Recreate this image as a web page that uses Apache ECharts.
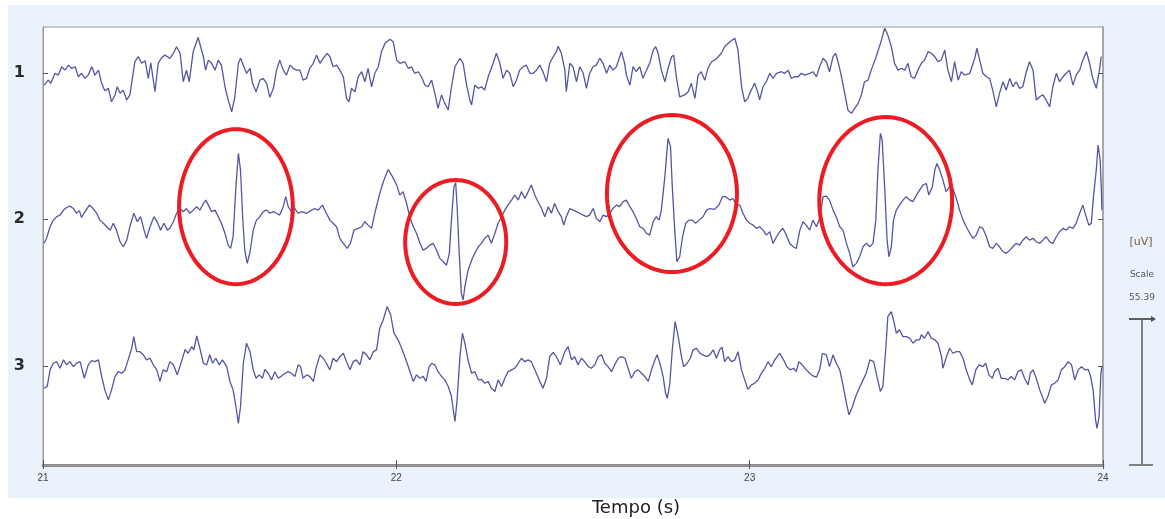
<!DOCTYPE html>
<html>
<head>
<meta charset="utf-8">
<script src="https://cdn.jsdelivr.net/npm/echarts@6/dist/echarts.min.js"></script>
<style>
  html, body { margin: 0; padding: 0; background: #ffffff; }
  #chart { width: 1165px; height: 519px; }
</style>
</head>
<body>
<div id="chart"></div>
<script>
// ---- DATA (time in s, amplitude in uV) ----
const CHANNEL_LABELS = ['1', '2', '3'];
const CHANNEL_OFFSETS = [148.7, 93.3, 37.6];   // montage baseline of each channel (uV on the stacked axis)
const TIME_MIN = 21, TIME_MAX = 24;
const SCALE_UV = 55.39;

const CH1 = [
[21.003,-4.6],[21.015,-2.7],[21.022,-3.9],[21.034,-0.1],[21.043,-0.8],[21.053,2.4],[21.062,1.1],[21.072,3.0],[21.081,1.8],[21.091,2.4],[21.100,-1.4],[21.109,-0.1],[21.119,-2.0],[21.128,-0.8],[21.138,2.4],[21.147,-0.8],[21.157,1.1],[21.166,-3.9],[21.175,-6.7],[21.185,-5.8],[21.194,-10.9],[21.204,-8.3],[21.210,-5.2],[21.218,-7.7],[21.227,-6.5],[21.237,-10.2],[21.246,-8.3],[21.260,4.3],[21.270,6.2],[21.279,3.7],[21.289,4.7],[21.298,-2.0],[21.305,3.9],[21.317,-7.1],[21.326,3.7],[21.336,5.9],[21.345,6.8],[21.359,5.6],[21.369,7.5],[21.378,10.0],[21.388,7.5],[21.397,-3.3],[21.406,1.1],[21.414,-3.3],[21.425,8.1],[21.439,13.5],[21.454,6.2],[21.460,1.1],[21.468,4.9],[21.477,3.7],[21.487,1.1],[21.496,4.9],[21.505,3.0],[21.515,-5.2],[21.524,-10.2],[21.534,-14.7],[21.543,-9.0],[21.553,3.7],[21.559,5.6],[21.567,3.0],[21.576,-0.1],[21.586,1.8],[21.593,-3.9],[21.603,-7.1],[21.614,-2.7],[21.623,-2.0],[21.633,-3.9],[21.642,-9.2],[21.652,-5.8],[21.661,1.1],[21.670,4.9],[21.680,1.1],[21.689,-0.8],[21.699,3.0],[21.708,1.8],[21.718,1.1],[21.727,1.1],[21.736,-2.7],[21.746,-2.0],[21.755,1.8],[21.765,3.7],[21.774,6.8],[21.784,3.7],[21.793,5.6],[21.804,7.5],[21.812,6.2],[21.821,2.4],[21.831,3.0],[21.840,1.1],[21.850,-1.4],[21.859,-9.6],[21.866,-10.9],[21.873,-5.8],[21.883,-7.1],[21.892,-1.4],[21.902,0.5],[21.911,-3.3],[21.920,1.8],[21.930,-5.2],[21.939,-0.1],[21.949,2.4],[21.958,8.1],[21.968,11.3],[21.982,12.8],[21.991,11.9],[22.001,4.9],
[22.010,3.7],[22.024,4.3],[22.034,1.8],[22.043,2.4],[22.052,-0.1],[22.062,0.5],[22.071,-1.4],[22.081,-4.6],[22.090,-5.2],[22.100,-2.7],[22.109,-7.7],[22.118,-13.4],[22.128,-8.3],[22.137,-11.5],[22.147,-14.0],[22.156,-5.2],[22.166,2.4],[22.180,5.6],[22.189,3.7],[22.199,-4.6],[22.208,-10.2],[22.213,-12.1],[22.222,-4.6],[22.232,-5.8],[22.241,-5.2],[22.250,-6.5],[22.260,-1.4],[22.274,3.7],[22.283,7.5],[22.293,3.7],[22.302,-2.0],[22.312,1.1],[22.321,-0.1],[22.331,-5.2],[22.340,-2.7],[22.349,1.1],[22.359,2.4],[22.368,3.0],[22.378,-0.1],[22.387,-0.1],[22.397,1.1],[22.406,3.0],[22.415,0.5],[22.425,-3.3],[22.434,3.7],[22.444,6.2],[22.453,8.1],[22.458,10.2],[22.467,7.5],[22.477,1.1],[22.481,-7.1],[22.491,3.7],[22.500,2.4],[22.510,-3.3],[22.519,2.4],[22.529,-0.1],[22.538,-5.8],[22.547,-0.1],[22.557,2.4],[22.566,3.0],[22.576,5.6],[22.585,3.7],[22.595,-0.1],[22.604,3.0],[22.613,1.1],[22.623,2.4],[22.632,6.2],[22.637,8.1],[22.646,3.7],[22.651,-0.8],[22.661,-4.6],[22.670,2.4],[22.679,0.5],[22.689,2.4],[22.698,-2.0],[22.708,1.1],[22.717,3.7],[22.727,8.7],[22.734,10.0],[22.741,7.5],[22.750,1.1],[22.760,-3.3],[22.769,1.8],[22.779,6.2],[22.785,6.8],[22.793,-2.0],[22.802,-9.0],[22.816,-8.3],[22.826,-7.1],[22.835,-3.9],[22.845,-9.6],[22.854,-0.8],[22.863,0.5],[22.873,-2.7],[22.882,1.8],[22.892,4.3],[22.901,4.9],[22.911,6.2],[22.920,7.5],[22.929,10.0],[22.944,11.9],[22.958,13.2],[22.967,8.7],[22.977,-5.2],[22.986,-10.9],[22.995,-9.6],
[23.000,-7.7],[23.014,-3.9],[23.024,-7.7],[23.028,-10.2],[23.038,-5.2],[23.047,-3.3],[23.057,-0.1],[23.066,-2.0],[23.076,-0.1],[23.090,0.5],[23.099,-0.1],[23.109,1.1],[23.118,-2.0],[23.127,-1.4],[23.137,-1.4],[23.146,-0.1],[23.156,-0.8],[23.170,-0.1],[23.179,0.5],[23.189,-1.4],[23.198,2.4],[23.208,5.6],[23.217,4.3],[23.226,0.5],[23.236,6.2],[23.243,7.5],[23.250,4.3],[23.259,-0.8],[23.269,-7.7],[23.278,-14.0],[23.288,-15.3],[23.297,-13.4],[23.307,-11.5],[23.316,-8.3],[23.325,-3.3],[23.335,-2.7],[23.344,1.1],[23.358,6.2],[23.373,12.5],[23.382,17.0],[23.387,17.6],[23.391,14.4],[23.401,10.0],[23.410,3.7],[23.420,1.1],[23.429,1.8],[23.439,1.1],[23.448,3.7],[23.457,-1.4],[23.467,-2.0],[23.476,1.1],[23.486,3.7],[23.495,4.9],[23.505,8.1],[23.514,7.5],[23.524,6.2],[23.533,4.3],[23.542,4.9],[23.552,8.7],[23.561,1.1],[23.571,-3.3],[23.580,4.3],[23.590,-2.7],[23.599,0.5],[23.608,-0.8],[23.623,-0.1],[23.637,5.6],[23.643,9.4],[23.651,4.9],[23.660,-0.1],[23.670,-1.4],[23.679,-2.0],[23.688,-6.5],[23.698,-12.8],[23.707,-7.7],[23.717,-3.3],[23.726,-6.5],[23.736,-2.0],[23.745,-5.2],[23.754,-3.3],[23.764,-5.8],[23.773,-5.2],[23.783,0.5],[23.792,4.3],[23.802,1.1],[23.811,-10.2],[23.821,-9.0],[23.830,-8.3],[23.839,-10.2],[23.849,-12.8],[23.858,-5.2],[23.868,-0.1],[23.877,-3.3],[23.887,-1.4],[23.896,-0.1],[23.905,1.1],[23.915,-4.6],[23.924,-0.8],[23.934,1.1],[23.943,4.9],[23.953,8.1],[23.962,3.7],[23.971,-2.0],[23.981,-5.8],[23.990,1.1],[23.995,6.2]
];

const CH2 = [
[21.003,-9.2],[21.010,-7.3],[21.020,-2.9],[21.029,-0.4],[21.039,0.9],[21.048,1.5],[21.058,3.4],[21.067,4.4],[21.076,4.9],[21.086,4.0],[21.095,2.2],[21.103,3.2],[21.109,0.6],[21.119,2.8],[21.131,5.3],[21.142,4.0],[21.152,2.2],[21.161,-0.4],[21.171,-1.6],[21.180,-2.9],[21.190,-4.2],[21.199,-1.6],[21.208,-4.2],[21.218,-8.6],[21.227,-10.5],[21.237,-8.0],[21.246,-2.9],[21.257,2.2],[21.267,-1.0],[21.276,0.9],[21.286,-4.2],[21.293,-7.3],[21.303,-2.9],[21.314,0.9],[21.323,-1.0],[21.333,-4.2],[21.342,-1.6],[21.352,-4.2],[21.359,-3.5],[21.369,-1.0],[21.378,2.2],[21.388,4.0],[21.397,2.8],[21.406,4.0],[21.416,2.2],[21.425,3.4],[21.435,4.7],[21.444,3.4],[21.454,5.9],[21.461,7.2],[21.468,5.3],[21.477,2.8],[21.487,3.4],[21.496,0.9],[21.505,-1.6],[21.515,-5.4],[21.524,-9.9],[21.531,-11.1],[21.538,-6.7],[21.546,12.3],[21.553,24.9],[21.559,18.6],[21.565,0.9],[21.571,-11.8],[21.578,-16.8],[21.586,-12.4],[21.595,-4.2],[21.604,-0.4],[21.614,0.9],[21.623,2.8],[21.633,3.4],[21.642,2.2],[21.652,2.8],[21.661,2.2],[21.670,1.5],[21.680,4.7],[21.687,8.5],[21.694,4.7],[21.703,2.8],[21.713,4.0],[21.722,2.2],[21.732,2.8],[21.746,2.2],[21.760,3.4],[21.769,4.0],[21.779,3.4],[21.791,5.3],[21.802,2.2],[21.812,-0.4],[21.821,-1.6],[21.831,-2.9],[21.840,-7.3],[21.850,-9.2],[21.861,-11.1],[21.870,-9.2],[21.880,-4.2],[21.892,-3.5],[21.902,-2.9],[21.911,-1.0],[21.920,-2.3],[21.930,-3.5],[21.939,2.2],[21.953,9.7],[21.965,14.8],[21.977,18.8],[21.989,16.1],[22.001,12.9],[22.010,9.1],[22.019,10.4],[22.029,5.9],[22.038,0.9],
[22.048,-2.9],[22.057,-5.4],[22.067,-9.2],[22.076,-11.8],[22.085,-11.1],[22.095,-9.9],[22.104,-9.2],[22.114,-11.8],[22.123,-14.9],[22.133,-16.2],[22.142,-17.5],[22.150,-13.0],[22.156,-0.4],[22.163,12.3],[22.168,13.8],[22.172,4.7],[22.178,-13.0],[22.184,-28.2],[22.189,-30.7],[22.194,-25.7],[22.203,-19.4],[22.213,-15.6],[22.222,-13.0],[22.232,-10.5],[22.241,-9.2],[22.250,-7.3],[22.260,-6.1],[22.269,-9.2],[22.279,-5.4],[22.288,-1.6],[22.298,0.9],[22.307,3.4],[22.316,5.3],[22.326,7.2],[22.335,9.1],[22.345,7.2],[22.354,10.4],[22.364,7.8],[22.373,10.4],[22.382,12.9],[22.392,9.1],[22.401,6.6],[22.411,4.0],[22.420,0.9],[22.430,4.7],[22.439,2.2],[22.448,5.9],[22.458,2.8],[22.467,0.9],[22.474,-2.3],[22.481,0.9],[22.491,4.0],[22.500,3.4],[22.510,2.8],[22.519,2.2],[22.529,1.5],[22.538,0.9],[22.547,1.5],[22.557,4.0],[22.566,0.3],[22.576,-1.0],[22.585,1.5],[22.595,0.9],[22.604,2.2],[22.613,4.0],[22.623,5.3],[22.632,4.7],[22.642,6.6],[22.651,7.2],[22.661,4.7],[22.670,2.8],[22.679,0.3],[22.689,-2.9],[22.698,-3.5],[22.708,-5.4],[22.717,-6.1],[22.727,-1.0],[22.736,0.9],[22.744,-0.4],[22.750,3.4],[22.760,16.1],[22.769,30.6],[22.776,27.5],[22.781,12.3],[22.788,-4.2],[22.794,-16.2],[22.802,-14.3],[22.810,-6.7],[22.819,-1.6],[22.828,-0.4],[22.838,-0.4],[22.847,-1.6],[22.857,-0.4],[22.868,0.9],[22.878,3.4],[22.887,4.0],[22.901,3.7],[22.913,5.3],[22.923,8.5],[22.932,8.5],[22.944,7.2],[22.953,7.8],[22.962,5.3],[22.972,5.3],[22.981,2.2],[22.991,-0.4],[23.000,-1.6],[23.010,-2.3],[23.019,-3.5],[23.028,-2.9],[23.038,-4.2],[23.047,-6.1],[23.057,-4.8],[23.066,-9.2],[23.076,-6.7],[23.085,-4.8],
[23.094,-3.5],[23.104,-6.1],[23.113,-9.2],[23.123,-10.5],[23.132,-11.1],[23.142,-4.2],[23.151,-1.0],[23.160,-2.3],[23.170,-4.2],[23.179,-0.4],[23.189,-2.9],[23.198,0.3],[23.208,8.5],[23.217,8.7],[23.226,7.2],[23.236,3.4],[23.245,0.9],[23.255,-2.9],[23.264,-4.2],[23.274,-9.2],[23.283,-13.0],[23.292,-18.1],[23.302,-16.8],[23.311,-14.3],[23.321,-10.5],[23.330,-9.2],[23.340,-10.5],[23.349,-9.2],[23.357,-0.4],[23.363,18.6],[23.370,32.5],[23.375,30.0],[23.382,12.3],[23.389,-8.0],[23.394,-14.3],[23.401,-10.5],[23.407,-0.4],[23.415,3.4],[23.424,5.3],[23.434,7.2],[23.443,8.5],[23.453,7.2],[23.462,6.6],[23.472,9.1],[23.481,11.0],[23.490,12.9],[23.500,13.5],[23.507,9.1],[23.517,12.3],[23.524,18.6],[23.530,21.1],[23.538,18.6],[23.547,14.8],[23.556,10.4],[23.566,12.3],[23.575,11.6],[23.585,7.8],[23.594,3.4],[23.604,-0.4],[23.613,-2.9],[23.623,-5.4],[23.632,-7.3],[23.641,-6.1],[23.651,-2.9],[23.660,-3.5],[23.670,-6.7],[23.679,-10.5],[23.688,-11.1],[23.698,-9.2],[23.707,-10.5],[23.717,-12.4],[23.726,-13.0],[23.736,-11.8],[23.745,-10.5],[23.754,-9.2],[23.764,-9.9],[23.773,-8.0],[23.783,-6.7],[23.792,-8.0],[23.802,-7.3],[23.811,-8.6],[23.821,-9.2],[23.830,-8.0],[23.839,-6.7],[23.849,-8.6],[23.858,-9.2],[23.868,-6.7],[23.877,-4.8],[23.887,-3.5],[23.896,-4.2],[23.905,-2.9],[23.915,-3.5],[23.924,-1.6],[23.934,2.2],[23.943,5.3],[23.951,1.5],[23.960,-2.3],[23.967,-1.6],[23.973,8.5],[23.981,18.6],[23.986,28.1],[23.992,22.4],[23.995,12.3],[23.997,3.4]
];

const CH3 = [
[21.003,-8.5],[21.012,-7.8],[21.020,-1.5],[21.029,1.0],[21.039,1.6],[21.048,-0.9],[21.058,2.3],[21.067,0.4],[21.076,1.6],[21.086,-0.3],[21.095,1.0],[21.105,1.6],[21.117,-4.7],[21.128,0.4],[21.138,2.0],[21.147,1.6],[21.157,2.3],[21.166,-4.0],[21.175,-9.1],[21.185,-12.9],[21.194,-9.1],[21.204,-4.0],[21.213,-2.2],[21.223,-2.8],[21.232,-1.5],[21.241,2.3],[21.251,6.7],[21.257,11.1],[21.265,5.4],[21.274,5.4],[21.284,4.2],[21.293,2.3],[21.303,2.9],[21.312,0.4],[21.322,-1.5],[21.331,-5.9],[21.340,-1.5],[21.350,-2.2],[21.359,1.6],[21.369,0.4],[21.380,-3.4],[21.389,0.4],[21.402,6.1],[21.411,4.8],[21.421,7.3],[21.427,6.1],[21.435,11.4],[21.444,6.7],[21.454,1.0],[21.463,0.4],[21.472,4.2],[21.480,1.0],[21.489,2.9],[21.499,0.4],[21.508,2.3],[21.520,-0.3],[21.529,-5.9],[21.538,-9.1],[21.546,-15.4],[21.553,-21.8],[21.559,-15.4],[21.567,1.0],[21.576,8.6],[21.586,5.4],[21.595,-1.5],[21.603,-4.7],[21.612,-3.4],[21.621,-4.7],[21.628,-1.3],[21.637,-2.8],[21.647,-5.3],[21.656,-2.2],[21.666,-4.7],[21.675,-3.8],[21.685,-2.8],[21.694,-2.2],[21.703,-2.8],[21.713,-4.0],[21.722,0.4],[21.729,-0.3],[21.736,-4.7],[21.746,-3.4],[21.755,-4.0],[21.765,-5.9],[21.774,-0.3],[21.784,4.2],[21.793,2.9],[21.802,1.0],[21.812,-1.5],[21.821,2.9],[21.831,1.6],[21.840,3.5],[21.850,4.8],[21.859,1.6],[21.869,-1.5],[21.878,1.6],[21.887,2.3],[21.897,0.4],[21.906,5.4],[21.916,4.2],[21.925,2.3],[21.935,5.4],[21.944,6.1],[21.953,14.3],[21.963,17.5],[21.974,22.5],[21.984,19.4],[21.993,12.5],[22.005,9.9],[22.015,6.7],[22.024,3.5],[22.034,-0.3],
[22.048,-5.9],[22.057,-3.4],[22.067,-4.7],[22.076,-4.0],[22.084,-5.9],[22.093,-0.3],[22.100,1.0],[22.109,0.4],[22.118,-2.2],[22.128,-4.0],[22.137,-5.3],[22.147,-7.8],[22.156,-11.6],[22.161,-16.7],[22.166,-21.1],[22.172,-12.9],[22.180,3.5],[22.187,12.4],[22.194,8.6],[22.203,2.3],[22.213,-2.8],[22.222,-2.2],[22.232,-5.3],[22.241,-5.1],[22.250,-6.6],[22.260,-5.9],[22.269,-8.5],[22.279,-9.7],[22.288,-5.3],[22.298,-7.8],[22.307,-4.7],[22.316,-2.2],[22.326,-1.5],[22.335,-0.9],[22.345,1.0],[22.354,2.9],[22.364,1.6],[22.373,2.3],[22.382,1.6],[22.392,-1.5],[22.404,-5.3],[22.415,-8.5],[22.425,-4.7],[22.434,3.5],[22.444,5.1],[22.453,3.5],[22.464,0.4],[22.477,5.4],[22.486,7.3],[22.496,2.3],[22.505,3.5],[22.514,0.4],[22.524,2.9],[22.533,1.6],[22.543,-0.3],[22.552,-0.9],[22.562,0.4],[22.571,3.5],[22.581,4.2],[22.590,1.0],[22.599,-0.3],[22.609,-2.2],[22.618,0.4],[22.628,2.9],[22.637,3.5],[22.647,2.9],[22.656,-0.9],[22.665,-4.7],[22.675,-2.2],[22.684,-1.5],[22.694,-2.8],[22.703,-4.0],[22.713,-5.9],[22.722,-1.5],[22.732,2.3],[22.738,4.2],[22.746,1.0],[22.755,-4.0],[22.762,-10.4],[22.767,-12.3],[22.774,-6.6],[22.781,6.1],[22.789,16.8],[22.796,12.4],[22.807,3.5],[22.813,-0.3],[22.823,1.0],[22.832,2.9],[22.840,6.1],[22.849,6.7],[22.859,4.8],[22.868,4.2],[22.878,3.5],[22.887,4.2],[22.897,6.1],[22.906,2.9],[22.915,6.1],[22.922,7.1],[22.929,1.6],[22.939,3.5],[22.948,1.6],[22.958,2.3],[22.967,5.4],[22.977,-1.5],[22.986,-5.3],[22.995,-8.9],[23.005,-7.2],[23.014,-6.6],[23.024,-5.3],[23.033,-2.8],[23.043,-0.9],[23.052,1.6],[23.061,-0.3],[23.071,2.3],[23.085,4.8],
[23.096,2.3],[23.105,-0.3],[23.115,-1.5],[23.124,-0.9],[23.132,-2.2],[23.139,1.6],[23.149,0.4],[23.160,-1.5],[23.170,-2.8],[23.179,-3.8],[23.189,-4.3],[23.198,-1.5],[23.206,4.8],[23.217,4.2],[23.226,-0.3],[23.236,4.2],[23.245,1.0],[23.255,-1.5],[23.264,-7.2],[23.274,-14.2],[23.281,-18.6],[23.291,-15.4],[23.300,-11.6],[23.310,-8.5],[23.321,-5.3],[23.330,-2.8],[23.340,2.3],[23.351,1.6],[23.360,-4.0],[23.370,-9.7],[23.377,-7.8],[23.385,6.1],[23.391,18.7],[23.401,20.6],[23.407,17.5],[23.415,12.4],[23.424,13.7],[23.434,11.1],[23.443,11.1],[23.453,10.5],[23.462,8.6],[23.472,9.9],[23.481,9.9],[23.486,11.8],[23.495,10.5],[23.505,13.0],[23.514,10.5],[23.524,9.9],[23.533,8.6],[23.543,3.5],[23.547,-0.9],[23.557,3.5],[23.566,6.7],[23.575,4.8],[23.585,5.4],[23.594,5.4],[23.604,2.9],[23.613,-1.5],[23.623,-5.3],[23.630,-7.2],[23.640,-1.5],[23.649,0.4],[23.660,-0.3],[23.668,1.0],[23.677,-3.4],[23.687,-4.7],[23.693,-2.2],[23.703,-0.9],[23.712,-4.7],[23.722,-4.7],[23.731,-5.3],[23.740,-4.0],[23.750,-5.3],[23.759,-2.2],[23.769,-1.5],[23.778,-4.7],[23.788,-7.2],[23.794,-2.8],[23.802,-1.5],[23.811,-4.7],[23.821,-9.1],[23.830,-12.3],[23.835,-14.2],[23.844,-11.6],[23.854,-7.2],[23.863,-6.6],[23.873,-5.3],[23.882,-1.5],[23.892,-0.3],[23.901,1.6],[23.911,0.4],[23.920,-5.3],[23.930,-1.5],[23.939,-0.3],[23.949,-1.5],[23.958,-1.3],[23.965,-4.0],[23.972,-9.1],[23.979,-20.5],[23.983,-23.7],[23.989,-19.2],[23.994,-2.8],[23.997,-0.3]
];

// Spikes highlighted on channel 2: [centre time s, centre uV, half-width s, half-height uV]
const SPIKE_MARKS = [
  [21.546, 4.7, 0.161, 29.4],
  [22.168, -8.7, 0.143, 23.5],
  [22.780, 9.7, 0.184, 29.8],
  [23.385, 7.0, 0.188, 31.7]
];
const CHANNELS = [CH1, CH2, CH3];
const Y_MAX = 3 * SCALE_UV;

// ---- CHART ----
const chart = echarts.init(document.getElementById('chart'), null, { renderer: 'canvas' });

const TRACE_COLOR = '#5456a2';

const traceSeries = CHANNELS.map((ch, i) => ({
  type: 'line',
  name: CHANNEL_LABELS[i],
  data: ch.map(p => [p[0], p[1] + CHANNEL_OFFSETS[i]]),
  showSymbol: false,
  symbol: 'none',
  lineStyle: { color: TRACE_COLOR, width: 1.3 },
  clip: true,
  z: 3
}));

const spikeSeries = {
  type: 'custom',
  data: SPIKE_MARKS.map(m => [m[0], m[1] + CHANNEL_OFFSETS[1], m[2], m[3]]),
  encode: { x: 0, y: 1 },
  clip: false,
  z: 5,
  renderItem: function (params, api) {
    const c = api.coord([api.value(0), api.value(1)]);
    const s = api.size([api.value(2), api.value(3)]);
    const pts = [];
    for (let k = 0; k < 96; k++) {
      const a = k / 96 * Math.PI * 2;
      pts.push([c[0] + s[0] * Math.cos(a), c[1] + s[1] * Math.sin(a)]);
    }
    return {
      type: 'polygon',
      shape: { points: pts },
      style: { fill: 'none', stroke: '#ec1c24', lineWidth: 4 }
    };
  }
};

function labelFor(v) {
  const i = CHANNEL_OFFSETS.findIndex(o => Math.abs(o - v) < 0.05);
  return i >= 0 ? CHANNEL_LABELS[i] : '';
}

const option = {
  animation: false,
  backgroundColor: '#ffffff',
  grid: {
    left: 43, top: 27, right: 62, bottom: 54,
    show: true, backgroundColor: '#ffffff', borderColor: '#9a9a9a', borderWidth: 1
  },
  xAxis: [
    {
      type: 'value', min: TIME_MIN, max: TIME_MAX, interval: 1, position: 'bottom',
      axisLine: { show: true, lineStyle: { color: '#8a8a8a', width: 3 } },
      axisTick: { show: true, inside: true, length: 5, lineStyle: { color: '#555', width: 1 } },
      axisLabel: { show: true, color: '#444', fontSize: 10, margin: 8,
        fontFamily: 'Liberation Sans Narrow, Liberation Sans, sans-serif' },
      splitLine: { show: false }
    },
    {
      type: 'value', min: TIME_MIN, max: TIME_MAX, interval: 1, position: 'top',
      axisLine: { show: true, lineStyle: { color: '#9a9a9a', width: 1 } },
      axisTick: { show: true, inside: true, length: 4, lineStyle: { color: '#555' } },
      axisLabel: { show: false },
      splitLine: { show: false }
    }
  ],
  yAxis: [
    {
      type: 'value', min: 0, max: Y_MAX, position: 'left',
      axisLine: { show: true, lineStyle: { color: '#9a9a9a', width: 1 } },
      axisTick: { show: true, inside: true, length: 5, customValues: CHANNEL_OFFSETS,
        lineStyle: { color: '#555' } },
      axisLabel: { show: true, customValues: CHANNEL_OFFSETS, formatter: labelFor,
        color: '#2a2a2a', fontSize: 16, fontWeight: 'bold', margin: 18,
        fontFamily: 'DejaVu Sans, sans-serif' },
      splitLine: { show: false }
    },
    {
      type: 'value', min: 0, max: Y_MAX, position: 'right',
      axisLine: { show: true, lineStyle: { color: '#a8a8a8', width: 2 } },
      axisTick: { show: true, inside: true, length: 5, customValues: CHANNEL_OFFSETS,
        lineStyle: { color: '#555' } },
      axisLabel: { show: false },
      splitLine: { show: false }
    }
  ],
  series: traceSeries.concat([spikeSeries])
};

chart.setOption(option);

// scale bar & side texts (bar length = SCALE_UV on the y axis)
const yBottom = chart.convertToPixel({ yAxisIndex: 0 }, 0);
const yTop = chart.convertToPixel({ yAxisIndex: 0 }, SCALE_UV);
const barX = 1142;
chart.setOption({
  graphic: [
    { type: 'rect', z: -10, silent: true,
      shape: { x: 8, y: 5, width: 1157, height: 493 },
      style: { fill: '#eaf3fc' } },
    { type: 'line', z: 10, shape: { x1: barX, y1: yTop, x2: barX, y2: yBottom },
      style: { stroke: '#808080', lineWidth: 2 } },
    { type: 'line', z: 10, shape: { x1: barX - 13, y1: yTop, x2: barX + 11, y2: yTop },
      style: { stroke: '#606060', lineWidth: 2 } },
    { type: 'polygon', z: 10, shape: { points: [[barX + 9, yTop - 3], [barX + 14, yTop], [barX + 9, yTop + 3]] },
      style: { fill: '#505050' } },
    { type: 'line', z: 10, shape: { x1: barX - 13, y1: yBottom, x2: barX + 11, y2: yBottom },
      style: { stroke: '#808080', lineWidth: 2 } },
    { type: 'text', z: 10, style: { text: '[uV]', x: 1141, y: 242, textAlign: 'center', textVerticalAlign: 'middle',
      fill: '#7a5a3a', fontSize: 11, fontFamily: 'DejaVu Sans, sans-serif' } },
    { type: 'text', z: 10, style: { text: 'Scale', x: 1142, y: 275, textAlign: 'center', textVerticalAlign: 'middle',
      fill: '#555', fontSize: 9, fontFamily: 'DejaVu Sans, sans-serif' } },
    { type: 'text', z: 10, style: { text: SCALE_UV.toFixed(2), x: 1142, y: 298, textAlign: 'center', textVerticalAlign: 'middle',
      fill: '#555', fontSize: 9, fontFamily: 'DejaVu Sans, sans-serif' } },
    { type: 'text', z: 10, style: { text: 'Tempo (s)', x: 636, y: 508, textAlign: 'center', textVerticalAlign: 'middle',
      fill: '#222', fontSize: 18, fontFamily: 'DejaVu Sans, sans-serif' } }
  ]
});
</script>
</body>
</html>
